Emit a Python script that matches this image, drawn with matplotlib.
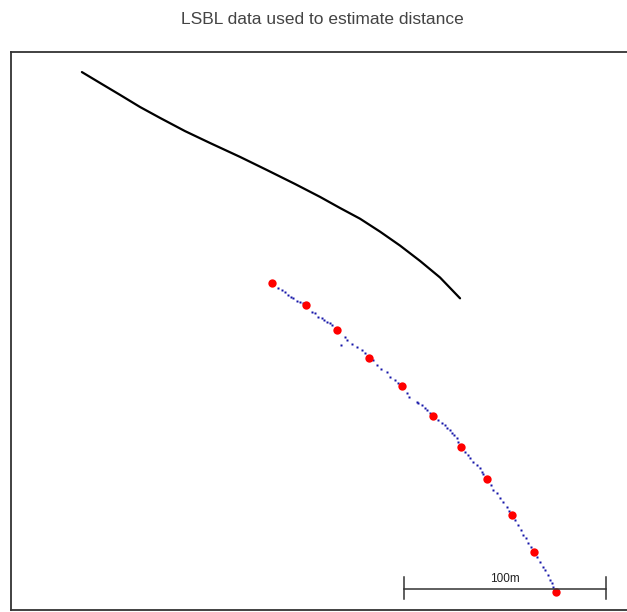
import matplotlib
matplotlib.use("Agg")
import matplotlib.pyplot as plt

# Local track coordinates in metres (east, north)
track_east = [35.1, 44.1, 54.0, 63.9, 73.8, 86.1, 98.5, 113.4, 126.7, 140.6,
              153.0, 162.9, 172.8, 182.7, 192.6, 202.5, 212.4, 222.3]
track_north = [266.3, 260.9, 255.0, 249.0, 243.6, 237.1, 231.2, 224.3, 217.8, 210.9,
               204.5, 199.0, 193.7, 187.3, 180.4, 172.8, 164.6, 154.3]

# Waypoints used for the distance estimate
waypoint_east = [129.1, 145.9, 161.2, 177.4, 193.4, 208.9, 222.6, 235.8, 248.2, 259.1, 269.7]
waypoint_north = [161.7, 151.0, 138.6, 124.9, 110.9, 96.2, 80.8, 64.9, 47.0, 28.9, 9.1]

# LSBL fixes
fix_east = [132.3, 134.0, 135.6, 137.3, 138.5, 139.8, 141.4, 143.1, 144.4,
            148.9, 150.5, 152.1, 153.8, 155.0, 156.6, 157.9, 158.8,
            165.3, 166.2, 163.2, 168.7, 171.1, 173.6, 175.2,
            179.4, 181.0, 183.0, 186.0, 187.6, 190.1, 191.7,
            195.9, 197.2, 200.8, 201.6, 203.3, 205.0, 205.8, 207.4,
            211.5, 213.2, 214.9, 215.7, 217.3, 218.2, 219.3, 220.6, 221.4,
            224.8, 226.4, 227.2, 228.9, 230.5, 232.2, 233.0, 233.8,
            237.5, 238.8, 240.4, 242.1, 243.7, 245.4, 246.7,
            249.5, 251.1, 252.3, 253.6, 255.0, 256.1, 257.4,
            260.5, 261.9, 263.2, 264.4, 265.7, 266.8, 267.7, 268.5]
fix_north = [159.3, 158.4, 157.6, 155.9, 155.1, 154.3, 153.1, 152.6, 151.8,
             147.7, 146.9, 145.2, 144.4, 143.6, 142.7, 141.9, 141.1,
             135.3, 133.7, 131.2, 131.7, 130.0, 128.7, 127.4,
             123.8, 121.3, 119.2, 118.0, 115.5, 113.9, 112.2,
             107.3, 105.6, 103.1, 102.3, 101.5, 99.9, 99.0, 97.4,
             94.1, 92.4, 91.6, 90.0, 89.1, 87.5, 86.6, 85.0, 83.3,
             78.4, 76.7, 75.1, 73.4, 71.8, 70.1, 68.5, 67.3,
             61.9, 59.4, 57.8, 55.3, 53.6, 51.1, 49.2,
             44.6, 42.1, 39.6, 37.1, 35.5, 33.0, 31.0,
             26.1, 23.9, 21.4, 19.8, 17.3, 14.9, 13.2, 11.2]

scale_length = 100
scale_label = "100m"
title = "LSBL data used to estimate distance"

W, H = 627, 612
fig = plt.figure(figsize=(W / 100, H / 100), dpi=100)
fig.patch.set_facecolor("white")

ax_l, ax_r, ax_t, ax_b = 11, 627, 52, 610
ax = fig.add_axes([ax_l / W, 1 - ax_b / H, (ax_r - ax_l) / W, (ax_b - ax_t) / H])
px_per_m = 2.02
ax.set_xlim(0, (ax_r - ax_l) / px_per_m)
ax.set_ylim(0, (ax_b - ax_t) / px_per_m)
ax.set_xticks([])
ax.set_yticks([])
for side in ("left", "top", "bottom"):
    ax.spines[side].set_color("#333333")
    ax.spines[side].set_linewidth(1.3)
ax.spines["right"].set_visible(False)

ax.plot(track_east, track_north, color="black", lw=1.6, solid_capstyle="round",
        solid_joinstyle="round")
ax.plot(fix_east, fix_north, linestyle="none", marker="s", ms=1.8,
        color="#1414a8", mec="none")
ax.plot(waypoint_east, waypoint_north, linestyle="none", marker="o", ms=6,
        color="#ff0000", mec="none")

# scale bar
x0, yb = 194.6, 10.2
ax.plot([x0, x0 + scale_length], [yb, yb], color="#333333", lw=1.1)
for xe in (x0, x0 + scale_length):
    ax.plot([xe, xe], [5.6, 16.4], color="#333333", lw=1.1)
ax.text(x0 + scale_length / 2, yb + 2.2, scale_label, ha="center", va="bottom",
        fontsize=8.5, family="Liberation Sans", color="#222222")

fig.text(322 / W, 1 - 19 / H, title, ha="center", va="center",
         fontsize=12.5, family="Liberation Sans", color="#444444")

fig.savefig("out.png", dpi=100)
